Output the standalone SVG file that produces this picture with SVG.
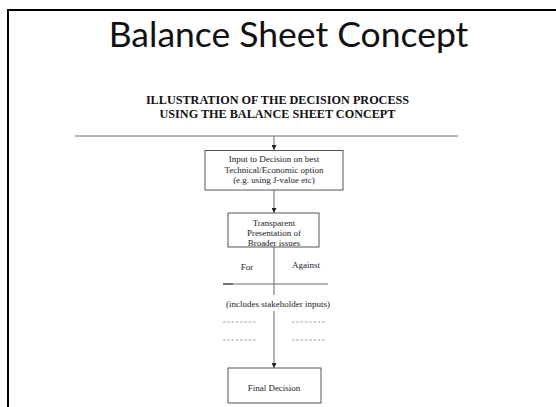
<svg xmlns="http://www.w3.org/2000/svg" width="556" height="407" viewBox="0 0 556 407">
<style>
.t{font-family:"Liberation Serif",serif;font-size:9px;fill:#1a1a2a;text-anchor:middle}
.h{font-family:"Liberation Serif",serif;font-size:12.2px;font-weight:bold;fill:#111;text-anchor:middle}
.box{fill:#fff;stroke:#555;stroke-width:1}
.ln{stroke:#6a6a6a;stroke-width:1;fill:none}
.dash{stroke:#888;stroke-width:0.8;stroke-dasharray:2.5 1.8}
</style>
<defs>
<marker id="ah" viewBox="0 0 6 6" refX="6" refY="3" markerWidth="5" markerHeight="5" orient="auto" markerUnits="userSpaceOnUse">
<path d="M0,0 L6,3 L0,6 z" fill="#222"/>
</marker>
</defs>
<rect width="556" height="407" fill="#fff"/>
<path d="M8,407 V10 H556" fill="none" stroke="#000" stroke-width="2"/>
<text x="288.5" y="47" font-family="Lato,sans-serif" font-size="35.5" fill="#111" text-anchor="middle">Balance Sheet Concept</text>
<text class="h" x="277.5" y="104">ILLUSTRATION OF THE DECISION PROCESS</text>
<text class="h" x="277.5" y="118">USING THE BALANCE SHEET CONCEPT</text>
<g id="connectors">
<line class="ln" x1="75" y1="136" x2="458" y2="136"/>
<line class="ln" x1="274" y1="136" x2="274" y2="150" marker-end="url(#ah)"/>
<line class="ln" x1="274" y1="190" x2="274" y2="213" marker-end="url(#ah)"/>
<line class="ln" x1="274" y1="247" x2="274" y2="295"/>
<line class="ln" x1="223" y1="284" x2="328" y2="284"/>
<line stroke="#333" stroke-width="1" x1="223" y1="284" x2="233" y2="284"/>
<line class="ln" x1="274" y1="311" x2="274" y2="368" marker-end="url(#ah)"/>
</g>
<g id="n1">
<rect class="box" x="205" y="150.5" width="138" height="39.5"/>
<text class="t" x="274" y="162">Input to Decision on best</text>
<text class="t" x="274" y="172.5">Technical/Economic option</text>
<text class="t" x="274" y="183">(e.g. using  J-value etc)</text>
</g>
<g id="n2">
<rect class="box" x="228" y="213" width="91" height="34"/>
<text class="t" x="274" y="226">Transparent</text>
<text class="t" x="274" y="236">Presentation of</text>
<text class="t" x="274" y="246">Broader issues</text>
</g>
<g id="balance">
<text class="t" x="247" y="270">For</text>
<text class="t" x="306" y="268">Against</text>
<text class="t" x="278" y="307">(includes stakeholder inputs)</text>
<line class="dash" x1="223" y1="322" x2="257" y2="322"/>
<line class="dash" x1="223" y1="340" x2="257" y2="340"/>
<line class="dash" x1="292" y1="322" x2="326" y2="322"/>
<line class="dash" x1="292" y1="340" x2="326" y2="340"/>
</g>
<g id="n3">
<rect class="box" x="228" y="368" width="93" height="35"/>
<text class="t" x="274" y="391">Final Decision</text>
</g>
</svg>
